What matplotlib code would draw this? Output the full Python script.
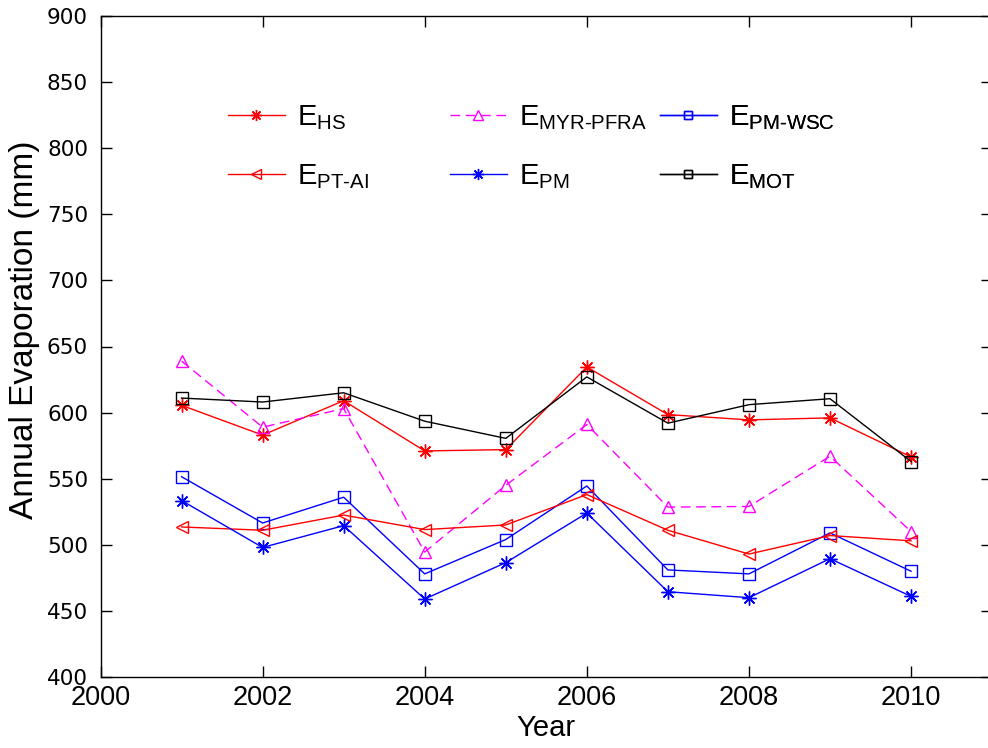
import matplotlib
matplotlib.use("Agg")
import matplotlib.pyplot as plt

plt.rcParams['font.family'] = ['Liberation Sans', 'DejaVu Sans']
plt.rcParams['mathtext.fontset'] = 'custom'
plt.rcParams['mathtext.rm'] = 'Liberation Sans'
plt.rcParams['mathtext.it'] = 'Liberation Sans'
plt.rcParams['mathtext.bf'] = 'Liberation Sans'
plt.rcParams['mathtext.default'] = 'regular'

years = [2001, 2002, 2003, 2004, 2005, 2006, 2007, 2008, 2009, 2010]
e_hs = [605.5, 583, 609, 571, 572, 634.5, 598.5, 594.5, 596, 566.5]
e_myr = [639, 589, 603, 494.5, 545, 591, 528.5, 529, 567, 510]
e_pmwsc = [551.5, 516.5, 536, 478, 504, 544.5, 481, 478, 509, 480]
e_ptai = [513.5, 511, 522.5, 511.5, 515, 538, 511, 493, 507, 503]
e_pm = [533.5, 498, 514.5, 459, 486.5, 524, 464.5, 460, 489.5, 461]
e_mot = [611, 608, 615, 593.5, 580.5, 627, 592, 606, 610.5, 563]

HY = '\u2010'
labels = {
    'hs': r'$\mathrm{E}_{\mathrm{HS}}$',
    'myr': r'$\mathrm{E}_{\mathrm{MYR' + HY + r'PFRA}}$',
    'pmwsc': r'$\mathrm{E}_{\mathrm{PM' + HY + r'WSC}}$',
    'ptai': r'$\mathrm{E}_{\mathrm{PT' + HY + r'AI}}$',
    'pm': r'$\mathrm{E}_{\mathrm{PM}}$',
    'mot': r'$\mathrm{E}_{\mathrm{MOT}}$',
}

W, H = 988, 748
fig = plt.figure(figsize=(W / 100, H / 100), dpi=100)
left = 100.5 / W
bottom = 1 - 677 / H
width = 891.6 / W
height = (677 - 16) / H
ax = fig.add_axes([left, bottom, width, height])

ast = (8, 2, 0)
lw = 1.0
l_hs, = ax.plot(years, e_hs, '-', color='#ff0000', marker=ast, ms=10, mew=1.0, lw=lw, label=labels['hs'])
l_myr, = ax.plot(years, e_myr, '--', color='#ff00ff', marker='^', ms=9, mfc='none', mew=1.0, lw=lw,
                 dashes=(7, 4), label=labels['myr'])
l_pmwsc, = ax.plot(years, e_pmwsc, '-', color='#0000ff', marker='s', ms=8, mfc='none', mew=1.0, lw=lw,
                   label=labels['pmwsc'])
l_ptai, = ax.plot(years, e_ptai, '-', color='#ff0000', marker='<', ms=9, mfc='none', mew=1.0, lw=lw,
                  label=labels['ptai'])
l_pm, = ax.plot(years, e_pm, '-', color='#0000ff', marker=ast, ms=10, mew=1.0, lw=lw, label=labels['pm'])
l_mot, = ax.plot(years, e_mot, '-', color='#000000', marker='s', ms=8, mfc='none', mew=1.0, lw=lw,
                 label=labels['mot'])

ax.set_xlim(2000, 2011)
ax.set_ylim(400, 900)
ax.set_xticks([2000, 2002, 2004, 2006, 2008, 2010])
ax.set_yticks(range(400, 901, 50))
ax.tick_params(axis='both', direction='in', length=8, width=1, top=True, right=True)
ax.tick_params(axis='x', labelsize=19.5, pad=6)
ax.tick_params(axis='y', labelsize=15.5, pad=9, labelfontfamily='DejaVu Sans')
for s in ax.spines.values():
    s.set_linewidth(1.0)

ax.set_xlabel('Year', fontsize=21, labelpad=2)
ax.set_ylabel('Annual Evaporation (mm)', fontsize=24)
ax.yaxis.set_label_coords((24.5 - 100.5) / 891.6, 0.525)
ax.yaxis.label.set_va('center')

cols = [([l_hs, l_ptai], 228), ([l_myr, l_pm], 450), ([l_pmwsc, l_mot], 660)]
for hs, x0 in cols:
    leg = ax.legend(handles=hs, loc='center left', bbox_to_anchor=(x0 / W, 1 - 147 / H),
                    bbox_transform=fig.transFigure, frameon=False, fontsize=21,
                    handlelength=1.95, handletextpad=0.42, labelspacing=1.05,
                    borderpad=0, borderaxespad=0, markerscale=0.8)
    ax.add_artist(leg)

fig.savefig('out.png', dpi=100)
